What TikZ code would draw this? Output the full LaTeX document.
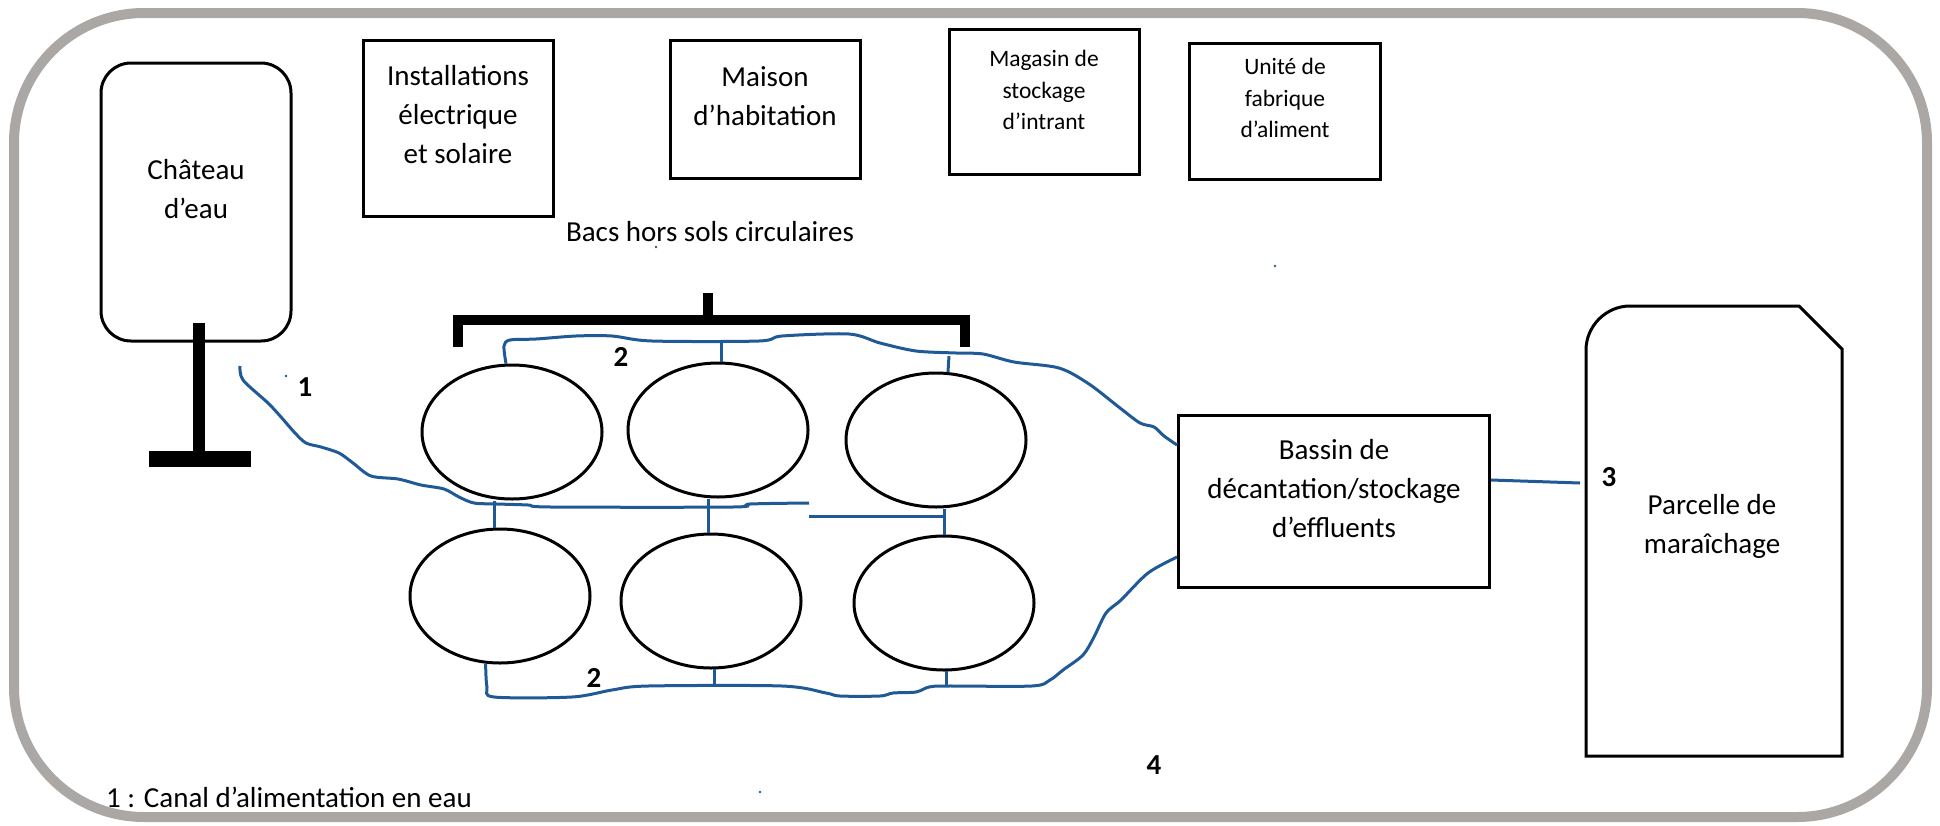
\documentclass[tikz,border=0pt]{standalone}
\usepackage{fontspec}
\setmainfont{Carlito}
\usepackage{tikz}
\usetikzlibrary{shapes.geometric}
\usetikzlibrary{calc}

\definecolor{canalbleu}{RGB}{31,90,150}
\definecolor{cadregris}{RGB}{170,167,165}

\newcommand{\grand}{\fontsize{29}{39}\selectfont}
\newcommand{\petit}{\fontsize{23.5}{31.5}\selectfont}

\begin{document}
\begin{tikzpicture}[x=1pt, y=-1pt,
  boite/.style={draw, line width=3pt},
  bac/.style={draw, ellipse, line width=3pt, minimum width=180pt, minimum height=134pt},
  canal/.style={draw=canalbleu, line width=3pt},
  texte/.style={align=center, font=\grand},
  petittexte/.style={align=center, font=\petit},
  numero/.style={font=\grand\bfseries},
  barre/.style={line width=10pt}]

\useasboundingbox (0,0) rectangle (1940,825);

% Draw the frame
\draw[cadregris, line width=10pt, rounded corners=130pt] (14,13) rectangle (1927,817);

% Draw the buildings
\node[boite, rounded corners=30pt, minimum width=190pt, minimum height=278pt] (chateau) at (196,202) {};
\node[texte] (chateau-t) at (196,189) {Château\\d’eau};
\draw[barre, line width=12pt] (199,323) -- (199,452);
\draw[barre, line width=16pt] (149,459) -- (251,459);

\node[boite, minimum width=190pt, minimum height=176pt] (install) at (458,128) {};
\node[texte] (install-t) at (458,115) {Installations\\électrique\\et solaire};

\node[boite, minimum width=190pt, minimum height=138pt] (maison) at (765,109) {};
\node[texte] (maison-t) at (765,96) {Maison\\d’habitation};

\node[boite, minimum width=190pt, minimum height=145pt] (magasin) at (1044,102) {};
\node[petittexte] (magasin-t) at (1044,90) {Magasin de\\stockage\\d’intrant};

\node[boite, minimum width=191pt, minimum height=136pt] (unite) at (1285,111) {};
\node[petittexte] (unite-t) at (1285,98) {Unité de\\fabrique\\d’aliment};

% Draw the tanks
\node[texte] (bacs) at (710,232) {Bacs hors sols circulaires};
\draw[barre] (458,347) -- (458,320) -- (965,320) -- (965,347);
\draw[barre] (708,293) -- (708,320);

\foreach \n/\x/\y in {c1/512/432, c2/718/430, c3/936/440, c4/500/596, c5/711/601, c6/944/603}
{
  \node[bac] (\n) at (\x,\y) {};
}

\node[boite, minimum width=311pt, minimum height=172pt] (bassin) at (1334,501) {};
\node[texte] (bassin-t) at (1334,489) {Bassin de\\décantation/stockage\\d’effluents};

% Draw the field
\draw[boite] (1586,756) -- (1586,350) .. controls (1586,326) and (1606,306) .. (1630,306)
  -- (1799,306) -- (1842,349) -- (1842,756) -- cycle;
\node[texte] (parcelle) at (1712,526) {Parcelle de\\maraîchage};

% Draw the canals
\coordinate (depart) at (240,366);
\coordinate (fin-haut) at (809,503);
\coordinate (m2) at (809,516);
\coordinate (b-haut) at ($(bassin.west)+(0,-56)$);
\coordinate (b-bas) at ($(bassin.west)+(0,56)$);
\coordinate (b-droite) at ($(bassin.east)+(0,-21)$);
\coordinate (fin-trois) at (1580,483);

\draw[canal] plot[smooth, tension=0.5] coordinates {(c1.95) (504,346) (510,340) (536,339) (576,336) (612,336) (652,341) (759,341) (782,336) (849,334) (880,343) (916,351) (956,353) (983,354) (1014,362) (1059,368) (1089,384) (1120,408) (1140,423) (1154,427) (1164,436) (b-haut)};
\draw[canal] plot[smooth, tension=0.5] coordinates {(depart) (243,380) (268,403) (281,417) (295,433) (306,443) (321,447) (339,453) (353,463) (371,476) (398,479) (421,485) (444,489) (459,497) (474,503) (497,504) (528,505) (551,507) (733,507) (750,504) (fin-haut)};
\draw[canal] (m2) -- (m2 -| c6.north);
\draw[canal] plot[smooth, tension=0.5] coordinates {(c4.-102) (487,687) (494,697) (572,697) (612,690) (648,686) (782,686) (826,693) (840,696) (880,696) (893,693) (916,692) (929,687) (947,686) (1032,686) (1050,680) (1063,670) (1083,655) (1094,637) (1106,613) (1121,600) (1148,573) (b-bas)};
\draw[canal] (b-droite) -- (fin-trois);

\draw[canal] (c4.95) -- (c4.95 |- c1.south);
\draw[canal] (c5.92) -- (c5.92 |- c2.south);
\draw[canal] (c6.north) -- (c6.north |- c3.south);
\draw[canal] (c2.87) -- ++(0,-21);
\draw[canal] (c3.80) -- ++(1,-16);
\draw[canal] (c5.-87) -- ++(0,18);
\draw[canal] (c6.-88) -- ++(0,15);

% Stray dots
\foreach \x/\y in {656/247, 1275/266, 286/376, 760/792}
{
  \fill[canalbleu] (\x,\y) circle (1.3);
}

% Draw the labels
\node[numero] (num1) at (305,387) {1};
\node[numero] (num2a) at (621,357) {2};
\node[numero] (num2b) at (594,678) {2};
\node[numero] (num3) at (1609,477) {3};
\node[numero] (num4) at (1154,765) {4};
\node[texte] (legende) at (289,797) {1 : Canal d’alimentation en eau};

\end{tikzpicture}
\end{document}
